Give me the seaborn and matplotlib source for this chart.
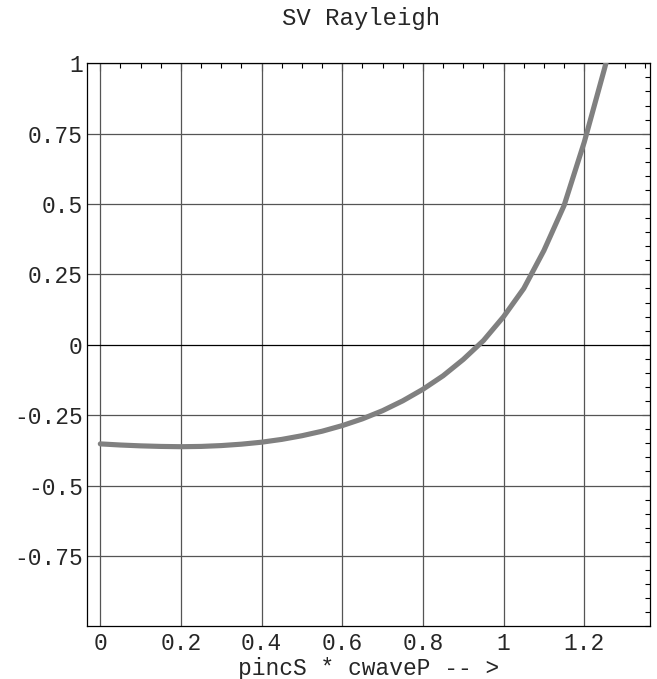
import numpy as np
import pandas as pd
import matplotlib
matplotlib.use("Agg")
import matplotlib.pyplot as plt
from matplotlib.ticker import MultipleLocator, FixedLocator
import seaborn as sns

# data
x_vals = [0.0, 0.05, 0.1, 0.15, 0.2, 0.25, 0.3, 0.35, 0.4, 0.45, 0.5, 0.55,
          0.6, 0.65, 0.7, 0.75, 0.8, 0.85, 0.9, 0.95, 1.0, 1.05, 1.1, 1.15,
          1.2, 1.25, 1.27]
y_vals = [-0.352, -0.356, -0.359, -0.361, -0.362, -0.361, -0.358, -0.353,
          -0.346, -0.336, -0.323, -0.307, -0.287, -0.263, -0.234, -0.199,
          -0.158, -0.110, -0.052, 0.015, 0.100, 0.200, 0.335, 0.495,
          0.720, 0.980, 1.09]
x_ticks = [0, 0.2, 0.4, 0.6, 0.8, 1.0, 1.2]
x_tick_labels = ["0", "0.2", "0.4", "0.6", "0.8", "1", "1.2"]
y_ticks = [-0.75, -0.5, -0.25, 0, 0.25, 0.5, 0.75, 1.0]
y_tick_labels = ["-0.75", "-0.5", "-0.25", "0", "0.25", "0.5", "0.75", "1"]
title = "SV Rayleigh"
xlabel = "pincS * cwaveP -- >"

sns.set_style("white")
plt.rcParams["font.family"] = ["Liberation Mono", "DejaVu Sans Mono"]

df = pd.DataFrame({"x": x_vals, "y": y_vals})

fig = plt.figure(figsize=(6.57, 6.79), dpi=100)
ax = fig.add_axes([87 / 657, 1 - 626.3 / 679, (650 - 87) / 657, (626.3 - 63.3) / 679])

ax.set_xlim(-0.033, 1.363)
ax.set_ylim(-1.0, 1.0)

# grid
for xv in x_ticks:
    ax.axvline(xv, color="#555555", lw=0.9, zorder=1)
for yv in y_ticks:
    ax.axhline(yv, color="#555555" if yv != 0 else "black", lw=0.9, zorder=1)

sns.lineplot(data=df, x="x", y="y", ax=ax, color="#808080", lw=3.7,
             zorder=3, solid_capstyle="round", solid_joinstyle="round")

ax.xaxis.set_major_locator(FixedLocator(x_ticks))
ax.yaxis.set_major_locator(FixedLocator(y_ticks))
ax.set_xticklabels(x_tick_labels)
ax.set_yticklabels(y_tick_labels)
ax.xaxis.set_minor_locator(MultipleLocator(0.05))
ax.yaxis.set_minor_locator(MultipleLocator(0.05))
ax.tick_params(which="both", direction="in", top=True, right=True,
               color="black", width=0.8)
ax.tick_params(which="major", length=6, labelsize=16.5)
ax.tick_params(axis="x", which="major", pad=4)
ax.tick_params(axis="y", which="major", pad=3)
ax.tick_params(which="minor", length=3.5)

for s in ax.spines.values():
    s.set_color("black")
    s.set_linewidth(0.9)

ax.set_xlabel(xlabel, fontsize=16.5, labelpad=1.5)
ax.set_ylabel("")
fig.text(361 / 657, 1 - 19 / 679, title, ha="center", va="center",
         fontsize=17.3)

fig.savefig("out.png", dpi=100, facecolor="white")
